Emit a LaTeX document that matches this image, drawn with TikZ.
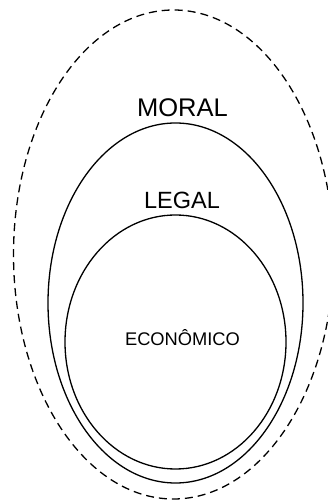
\documentclass[tikz,border=0pt]{standalone}
\usepackage{fontspec}
\setmainfont{Liberation Sans}
\usepackage{tikz}
\usetikzlibrary{positioning}

\begin{document}
\begin{tikzpicture}[x=1pt, y=1pt, line width=1.3pt,
    lbl/.style={anchor=base, inner sep=0pt}]

    \useasboundingbox (0,0) rectangle (328,502);

    \draw[dash pattern=on 8pt off 5pt] (173.5,247.5) ellipse [x radius=160, y radius=244.5];
    \draw (175.5,199) ellipse [x radius=127.5, y radius=180];
    \draw (175.5,160) ellipse [x radius=110.5, y radius=127];

    \node[lbl]	(M)	at	(182.5,385)	{\fontsize{25.5}{28}\selectfont MORAL};
    \node[lbl]	(L)	at	(182,293)	{\fontsize{23.5}{26}\selectfont LEGAL};
    \node[lbl]	(E)	at	(182.5,156.3)	{\fontsize{18.3}{20}\selectfont ECONÔMICO};
\end{tikzpicture}
\end{document}
